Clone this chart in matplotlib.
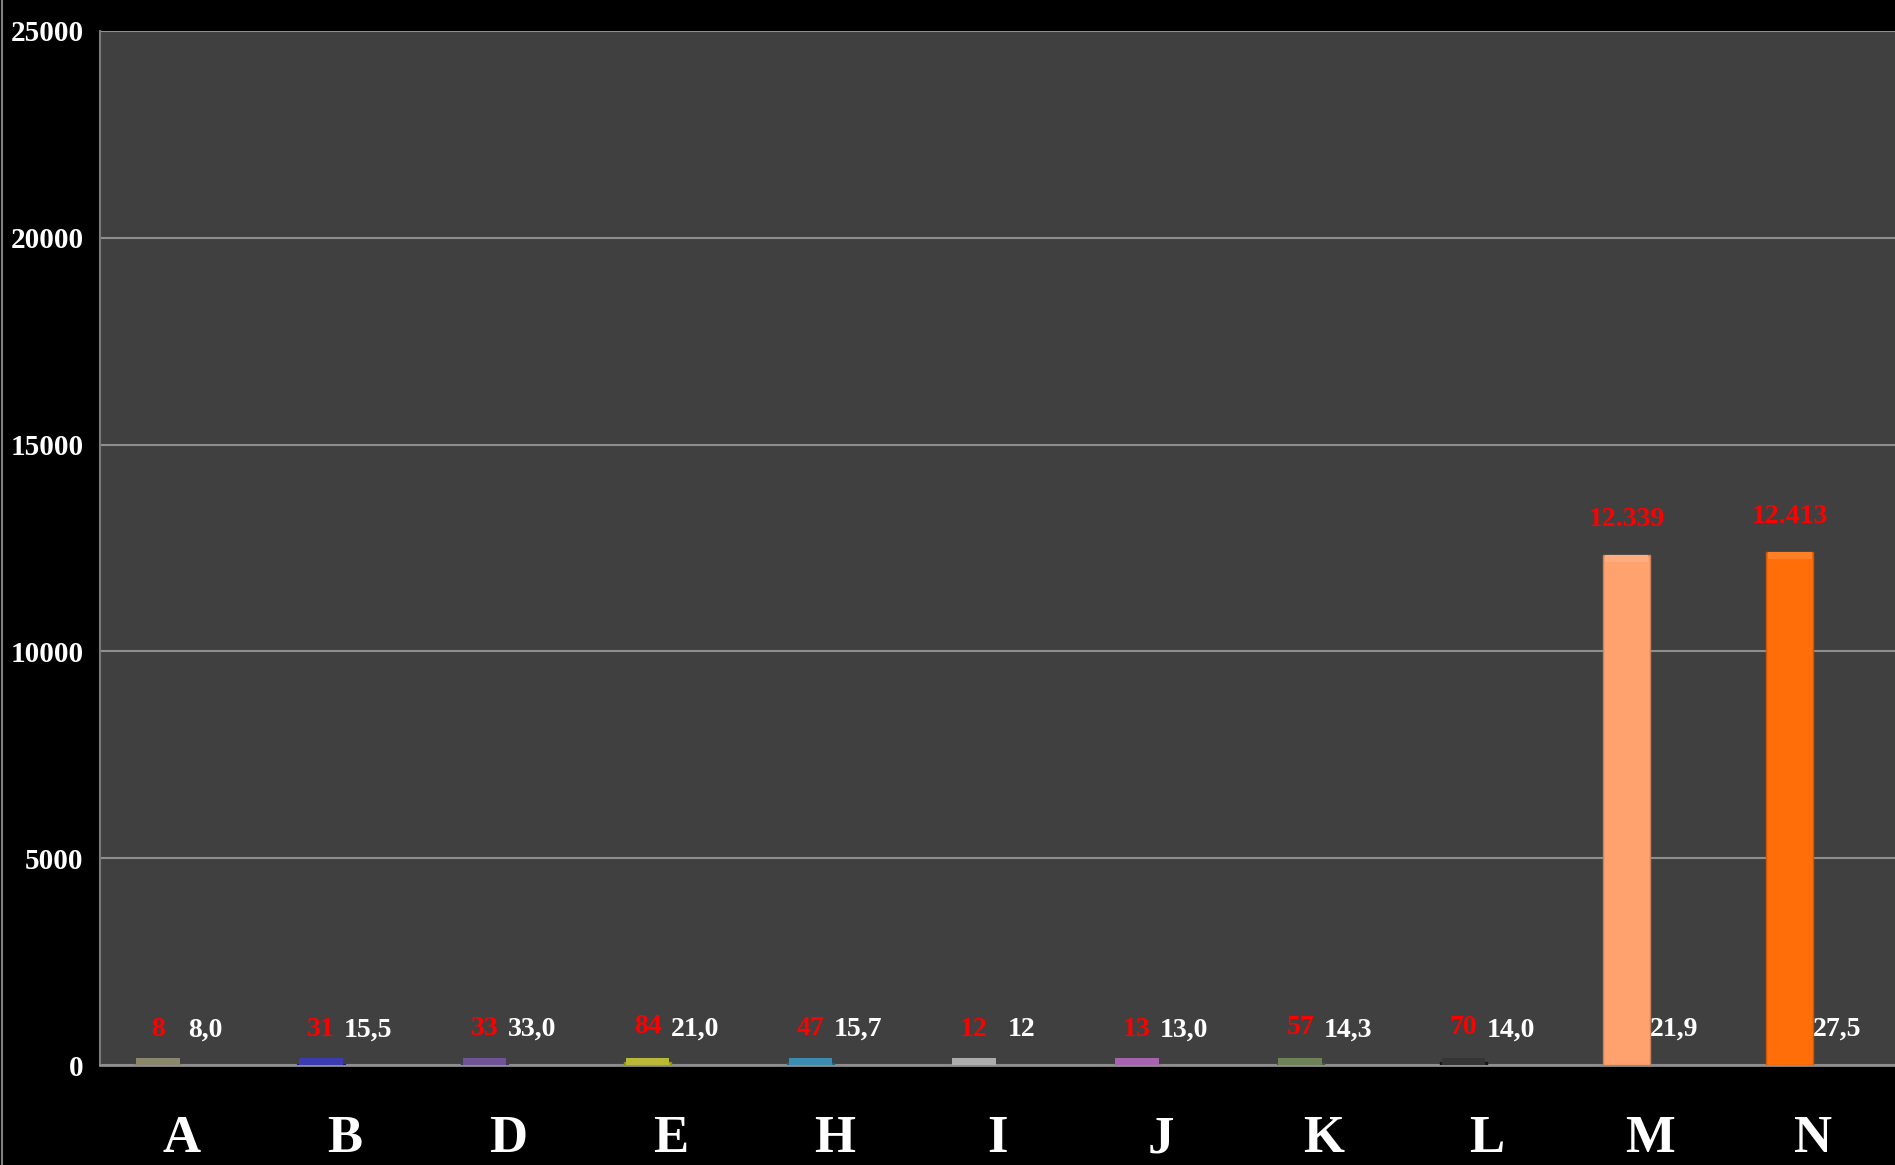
import numpy as np
import matplotlib
matplotlib.use('Agg')
import matplotlib.pyplot as plt
from matplotlib.colors import to_rgb
from matplotlib.lines import Line2D

# data
categories = ['A', 'B', 'D', 'E', 'H', 'I', 'J', 'K', 'L', 'M', 'N']
totals = [8, 31, 33, 84, 47, 12, 13, 57, 70, 12339, 12413]
total_labels = ['8', '31', '33', '84', '47', '12', '13', '57', '70', '12.339', '12.413']
averages = [8.0, 15.5, 33.0, 21.0, 15.7, 12, 13.0, 14.3, 14.0, 21.9, 27.5]
average_labels = ['8,0', '15,5', '33,0', '21,0', '15,7', '12', '13,0', '14,3', '14,0', '21,9', '27,5']
bar_colors = ['#7a7758', '#2020a8', '#5c3a88', '#b0b01c', '#1f7ea6', '#a2a2a2',
              '#9c4ea4', '#5a7040', '#1a1a1a', '#ffa26e', '#ff6e08']
yticks = [0, 5000, 10000, 15000, 20000, 25000]

plt.rcParams['font.family'] = ['Liberation Serif', 'DejaVu Serif']
plt.rcParams['font.weight'] = 'bold'

def mix(c, other, t):
    a = np.array(to_rgb(c))
    b = np.array(to_rgb(other))
    return tuple(a * (1 - t) + b * t)

fig = plt.figure(figsize=(18.95, 11.65), dpi=100)
fig.patch.set_facecolor('black')
ax = fig.add_axes([0.0528, 0.0858, 0.9472, 0.8876])
ax.set_facecolor('#404040')

x = np.arange(len(categories))
w = 0.29
tot = np.array(totals, dtype=float)

# main bars
ax.bar(x - w / 2, tot, w, color=bar_colors,
       edgecolor=[mix(c, 'black', 0.2) for c in bar_colors], linewidth=1, zorder=3)
# bevel on top of each bar
cap = 170
ax.bar(x - w / 2, cap, w * 0.92, bottom=np.maximum(tot - cap, 0),
       color=[mix(c, 'white', 0.12) for c in bar_colors], linewidth=0, zorder=4)
# second series is practically invisible at this scale
ax.bar(x + w / 2, averages, w, color='none', linewidth=0, zorder=3)

for xi, v, s in zip(x, totals, total_labels):
    ax.annotate(s, (xi - w / 2, v), xytext=(0, 25), textcoords='offset points',
                ha='center', va='center', color='red', fontsize=20, fontweight='bold', zorder=5)
for xi, v, s in zip(x, averages, average_labels):
    ax.annotate(s, (xi + w / 2, v), xytext=(0, 25), textcoords='offset points',
                ha='center', va='center', color='white', fontsize=20, fontweight='bold', zorder=5)

ax.set_xlim(-0.5, len(categories) - 0.5)
ax.set_ylim(0, 25000)
ax.set_xticks(x)
ax.set_xticklabels(categories)
ax.set_yticks(yticks)
ax.set_yticklabels([str(t) for t in yticks])
ax.tick_params(axis='x', length=0, pad=36, labelsize=38, labelcolor='white')
ax.tick_params(axis='y', length=0, pad=12, labelsize=21, labelcolor='white')

ax.grid(axis='y', color='#8e8e8e', linewidth=1.5, zorder=1)
ax.set_axisbelow(True)
for side in ['top', 'right']:
    ax.spines[side].set_visible(False)
ax.spines['left'].set_color('#7a7a7a')
ax.spines['left'].set_linewidth(1.5)
ax.spines['bottom'].set_color('#8e8e8e')
ax.spines['bottom'].set_linewidth(2)

fig.add_artist(Line2D([0.001, 0.001], [0, 1], color='#808080', linewidth=1.5))

fig.savefig('out.png', dpi=100, facecolor=fig.get_facecolor())
